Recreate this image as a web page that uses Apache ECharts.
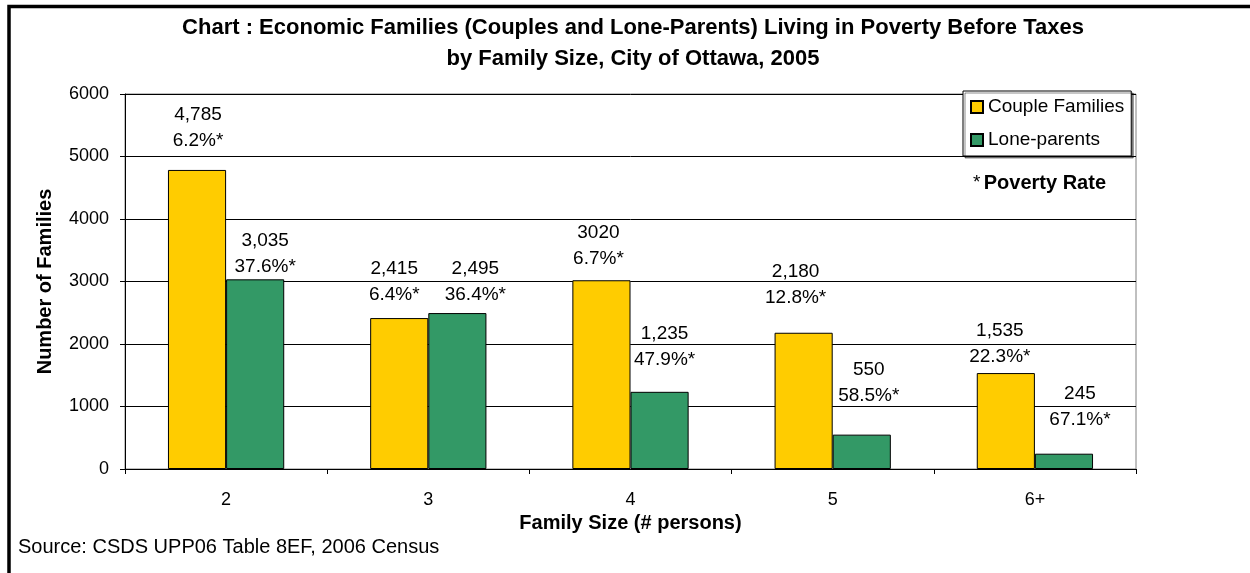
<!DOCTYPE html>
<html>
<head>
<meta charset="utf-8">
<script src="https://cdn.jsdelivr.net/npm/echarts@6/dist/echarts.min.js"></script>
<style>html,body{margin:0;padding:0;background:#fff}#c{width:1250px;height:573px}</style>
</head>
<body>
<div id="c"></div>
<script>
var categories = ['2', '3', '4', '5', '6+'];
var coupleFamilies = [4785, 2415, 3020, 2180, 1535];
var loneParents = [3035, 2495, 1235, 550, 245];
var coupleValueText = ['4,785', '2,415', '3020', '2,180', '1,535'];
var loneValueText = ['3,035', '2,495', '1,235', '550', '245'];
var coupleRate = ['6.2%', '6.4%', '6.7%', '12.8%', '22.3%'];
var loneRate = ['37.6%', '36.4%', '47.9%', '58.5%', '67.1%'];
var yTicks = [0, 1000, 2000, 3000, 4000, 5000, 6000];

// label placement (layout only, not data)
var coupleLabelOffset = [[1, -16], [-5, -10], [-3, -8], [-8, -22], [-6, -3]];
var loneLabelOffset = [[10, 0], [18, -5], [5, -19], [7, -26], [16, -21]];

var FONT = 'Arial, "Liberation Sans", sans-serif';

function buildData(values, texts, rates, offsets) {
  return values.map(function (v, i) {
    return {
      value: v,
      label: {
        show: true,
        position: 'top',
        distance: 0,
        offset: offsets[i],
        formatter: texts[i] + '\n' + rates[i] + '*'
      }
    };
  });
}

var chart = echarts.init(document.getElementById('c'));
chart.setOption({
  animation: false,
  backgroundColor: '#ffffff',
  textStyle: { fontFamily: FONT },
  title: {
    text: 'Chart : Economic Families (Couples and Lone-Parents) Living in Poverty Before Taxes\nby Family Size, City of Ottawa, 2005',
    left: 633,
    top: 12,
    textAlign: 'center',
    padding: 0,
    textStyle: { fontFamily: FONT, fontSize: 22, fontWeight: 'bold', color: '#000', lineHeight: 31 }
  },
  legend: {
    orient: 'vertical',
    left: 963,
    top: 91,
    padding: [6, 7, 6, 7],
    itemGap: 13,
    itemWidth: 12,
    itemHeight: 12,
    icon: 'rect',
    borderColor: '#000',
    borderWidth: 1,
    backgroundColor: '#fff',
    shadowColor: 'rgba(0,0,0,0.45)',
    shadowOffsetX: 2,
    shadowOffsetY: 2,
    shadowBlur: 0,
    textStyle: { fontFamily: FONT, fontSize: 19, color: '#000', lineHeight: 20 },
    data: ['Couple Families', 'Lone-parents']
  },
  grid: {
    left: 125,
    top: 94,
    right: 114,
    bottom: 104,
    show: true,
    borderColor: '#808080',
    borderWidth: 1
  },
  xAxis: {
    type: 'category',
    data: categories,
    name: 'Family Size (# persons)',
    nameLocation: 'middle',
    nameGap: 44,
    nameTextStyle: { fontFamily: FONT, fontSize: 20, fontWeight: 'bold', color: '#000' },
    axisLine: { lineStyle: { color: '#000', width: 1 } },
    axisTick: { show: true, length: 5, lineStyle: { color: '#000' } },
    axisLabel: { fontFamily: FONT, fontSize: 18, color: '#000', margin: 22 },
    splitLine: { show: false }
  },
  yAxis: {
    type: 'value',
    min: 0,
    max: yTicks[yTicks.length - 1],
    interval: yTicks[1] - yTicks[0],
    name: 'Number of Families',
    nameLocation: 'middle',
    nameGap: 70,
    nameTextStyle: { fontFamily: FONT, fontSize: 20, fontWeight: 'bold', color: '#000' },
    axisLine: { show: true, lineStyle: { color: '#000', width: 1 } },
    axisTick: { show: true, length: 5, lineStyle: { color: '#000' } },
    axisLabel: {
      fontFamily: FONT, fontSize: 18, color: '#000', margin: 16,
      formatter: function (v) { return String(v); }
    },
    splitLine: { show: true, lineStyle: { color: '#000', width: 1 } }
  },
  series: [
    {
      name: 'Couple Families',
      type: 'bar',
      barGap: '0%',
      barCategoryGap: '42.5%',
      itemStyle: { color: '#FFCC00', borderColor: '#000', borderWidth: 1 },
      label: { fontFamily: FONT, fontSize: 19, color: '#000', lineHeight: 26, align: 'center' },
      data: buildData(coupleFamilies, coupleValueText, coupleRate, coupleLabelOffset)
    },
    {
      name: 'Lone-parents',
      type: 'bar',
      barGap: '0%',
      barCategoryGap: '42.5%',
      itemStyle: { color: '#339966', borderColor: '#000', borderWidth: 1 },
      label: { fontFamily: FONT, fontSize: 19, color: '#000', lineHeight: 26, align: 'center' },
      data: buildData(loneParents, loneValueText, loneRate, loneLabelOffset)
    }
  ],
  graphic: [
    {
      type: 'rect',
      shape: { x: 9, y: 6.5, width: 1400, height: 800 },
      style: { fill: 'none', stroke: '#000', lineWidth: 3.5 },
      silent: true
    },
    {
      type: 'text',
      left: 973,
      top: 173,
      style: {
        text: '{a|*} {b|Poverty Rate}',
        rich: {
          a: { fontFamily: FONT, fontSize: 19, fill: '#000' },
          b: { fontFamily: FONT, fontSize: 20, fontWeight: 'bold', fill: '#000' }
        }
      }
    },
    {
      type: 'text',
      left: 18,
      top: 537,
      style: {
        text: 'Source: CSDS UPP06 Table 8EF, 2006 Census',
        fontFamily: FONT,
        fontSize: 20,
        fill: '#000'
      }
    }
  ]
});
</script>
</body>
</html>
